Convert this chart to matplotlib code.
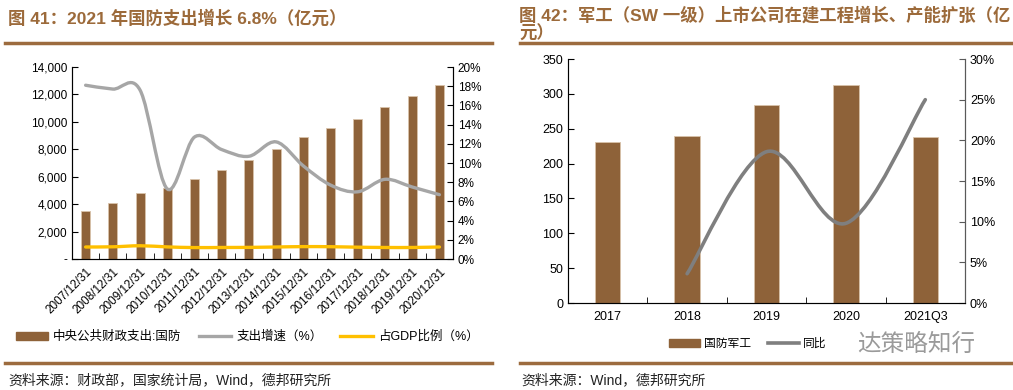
import matplotlib
matplotlib.use("Agg")
import matplotlib.pyplot as plt
from matplotlib.path import Path
from matplotlib.patches import PathPatch, Patch
from matplotlib.lines import Line2D
import numpy as np

plt.rcParams['font.family'] = ['Liberation Sans', 'Noto Sans CJK SC', 'DejaVu Sans']

# left chart data
years = ['2007/12/31', '2008/12/31', '2009/12/31', '2010/12/31', '2011/12/31',
         '2012/12/31', '2013/12/31', '2014/12/31', '2015/12/31', '2016/12/31',
         '2017/12/31', '2018/12/31', '2019/12/31', '2020/12/31']
defense = [3482, 4099, 4825, 5176, 5829, 6506, 7202, 8055, 8868, 9544,
           10226, 11070, 11899, 12680]
growth = [18.1, 17.7, 17.6, 7.3, 12.7, 11.4, 10.7, 12.2, 9.7, 7.7, 7.0, 8.3, 7.5, 6.7]
gdp_ratio = [1.25, 1.27, 1.38, 1.26, 1.19, 1.20, 1.21, 1.25, 1.29, 1.28, 1.23, 1.20, 1.20, 1.25]

# right chart data
periods = ['2017', '2018', '2019', '2020', '2021Q3']
cip = [231, 239, 284, 312, 238]
yoy_x = [1, 2, 3, 4]
yoy = [3.6, 18.6, 9.8, 25.0]

brown = '#8E6239'
rule = '#9C6B3E'
title_c = '#9C6A3A'


def smooth_path(xs, ys):
    # excel-like smoothed line through the points
    verts = [(xs[0], ys[0])]
    codes = [Path.MOVETO]
    n = len(xs)
    for i in range(n - 1):
        p0 = (xs[i - 1], ys[i - 1]) if i > 0 else (xs[i], ys[i])
        p1 = (xs[i], ys[i])
        p2 = (xs[i + 1], ys[i + 1])
        p3 = (xs[i + 2], ys[i + 2]) if i + 2 < n else p2
        c1 = (p1[0] + (p2[0] - p0[0]) / 6, p1[1] + (p2[1] - p0[1]) / 6)
        c2 = (p2[0] - (p3[0] - p1[0]) / 6, p2[1] - (p3[1] - p1[1]) / 6)
        verts += [c1, c2, p2]
        codes += [Path.CURVE4] * 3
    return Path(verts, codes)


fig = plt.figure(figsize=(10.13, 3.9), dpi=100)
W, H = 1013.0, 390.0


def box(x0, y0, x1, y1):
    return [x0 / W, 1 - y1 / H, (x1 - x0) / W, (y1 - y0) / H]


# ---------------- left chart ----------------
ax1 = fig.add_axes(box(72, 67, 453, 259))
x = np.arange(len(years))
ax1.bar(x, defense, width=0.33, color=brown, edgecolor='#D9C3AA', linewidth=0.6, zorder=2)
ax1.set_xlim(-0.5, len(years) - 0.5)
ax1.set_ylim(0, 14000)
ax1.set_yticks(np.arange(0, 14001, 2000))
ax1.set_yticklabels(['-' if v == 0 else f'{v:,}' for v in range(0, 14001, 2000)], fontsize=8.5)
ax1.set_xticks(x)
ax1.set_xticklabels(years, rotation=45, ha='right', rotation_mode='anchor', fontsize=8.5)
ax1.tick_params(axis='x', length=0, pad=5)
ax1.set_xticks(np.arange(-0.5, len(years), 1), minor=True)
ax1.tick_params(axis='x', which='minor', direction='in', length=4)
ax1.tick_params(axis='y', direction='in', length=4)
ax1.spines['top'].set_visible(False)
for s in ['left', 'bottom', 'right']:
    ax1.spines[s].set_color('#333333')

ax1b = ax1.twinx()
ax1b.set_ylim(0, 20)
ax1b.set_yticks(np.arange(0, 21, 2))
ax1b.set_yticklabels([f'{v}%' for v in range(0, 21, 2)], fontsize=8.5)
ax1b.tick_params(axis='y', direction='in', length=4)
ax1b.spines['top'].set_visible(False)
ax1b.add_patch(PathPatch(smooth_path(x, growth), facecolor='none', edgecolor='#A6A6A6',
                         lw=2.4, capstyle='round'))
ax1b.add_patch(PathPatch(smooth_path(x, gdp_ratio), facecolor='none', edgecolor='#FFC000',
                         lw=2.4, capstyle='round'))

fig.legend(handles=[Patch(color=brown, label='中央公共财政支出:国防'),
                    Line2D([], [], color='#A6A6A6', lw=2.4, label='支出增速（%）'),
                    Line2D([], [], color='#FFC000', lw=2.4, label='占GDP比例（%）')],
           loc='center', bbox_to_anchor=(247 / W, 1 - 337 / H), ncol=3, frameon=False,
           fontsize=9, handlelength=2.6, handleheight=0.6, columnspacing=1.4, handletextpad=0.4)

fig.text(8 / W, 1 - 18 / H, '图 41：2021 年国防支出增长 6.8%（亿元）', fontsize=12.5,
         fontweight='bold', color=title_c, va='center', ha='left')
fig.add_artist(Line2D([5 / W, 492 / W], [1 - 43 / H] * 2, color=rule, lw=2.5))
fig.add_artist(Line2D([5 / W, 492 / W], [1 - 363 / H] * 2, color=rule, lw=2.5))
fig.text(8 / W, 1 - 380 / H, '资料来源：财政部，国家统计局，Wind，德邦研究所', fontsize=10,
         color='#222222', va='center', ha='left')

# ---------------- right chart ----------------
ax2 = fig.add_axes(box(568, 59, 965, 303))
x2 = np.arange(len(periods))
ax2.bar(x2, cip, width=0.32, color=brown, edgecolor='#D9C3AA', linewidth=0.6, zorder=2)
ax2.set_xlim(-0.5, len(periods) - 0.5)
ax2.set_ylim(0, 350)
ax2.set_yticks(np.arange(0, 351, 50))
ax2.tick_params(axis='y', direction='in', length=4, labelsize=9)
ax2.set_xticks(x2)
ax2.set_xticklabels(periods, fontsize=9)
ax2.tick_params(axis='x', length=0, pad=6)
ax2.set_xticks(np.arange(-0.5, len(periods), 1), minor=True)
ax2.tick_params(axis='x', which='minor', direction='in', length=4)
ax2.spines['top'].set_visible(False)
for s in ['left', 'bottom', 'right']:
    ax2.spines[s].set_color('#595959')

ax2b = ax2.twinx()
ax2b.set_ylim(0, 30)
ax2b.set_yticks(np.arange(0, 31, 5))
ax2b.set_yticklabels([f'{v}%' for v in range(0, 31, 5)], fontsize=9)
ax2b.tick_params(axis='y', direction='in', length=4, color='#595959')
ax2b.spines['top'].set_visible(False)
ax2b.spines['right'].set_color('#595959')
ax2b.add_patch(PathPatch(smooth_path(yoy_x, yoy), facecolor='none', edgecolor='#7F7F7F',
                         lw=2.6, capstyle='round'))

fig.legend(handles=[Patch(color=brown, label='国防军工'),
                    Line2D([], [], color='#7F7F7F', lw=2.6, label='同比')],
           loc='center', bbox_to_anchor=(748 / W, 1 - 344 / H), ncol=2, frameon=False,
           fontsize=8.5, handlelength=2.6, handleheight=0.6, columnspacing=1.4, handletextpad=0.4)

fig.text(519 / W, 1 - 15 / H, '图 42：军工（SW 一级）上市公司在建工程增长、产能扩张（亿',
         fontsize=12.5, fontweight='bold', color=title_c, va='center', ha='left')
fig.text(519 / W, 1 - 33 / H, '元）', fontsize=12.5, fontweight='bold', color=title_c,
         va='center', ha='left')
fig.add_artist(Line2D([520 / W, 1.0], [1 - 43 / H] * 2, color=rule, lw=2.5))
fig.add_artist(Line2D([520 / W, 1.0], [1 - 363 / H] * 2, color=rule, lw=2.5))
fig.text(521 / W, 1 - 380 / H, '资料来源：Wind，德邦研究所', fontsize=10,
         color='#222222', va='center', ha='left')

# watermark
fig.text(857 / W, 1 - 345 / H, '达策略知行', fontsize=17, color='#9A9A9A',
         va='center', ha='left', bbox=dict(facecolor='white', edgecolor='none', pad=1, alpha=0.6))

fig.savefig('out.png', dpi=100)
